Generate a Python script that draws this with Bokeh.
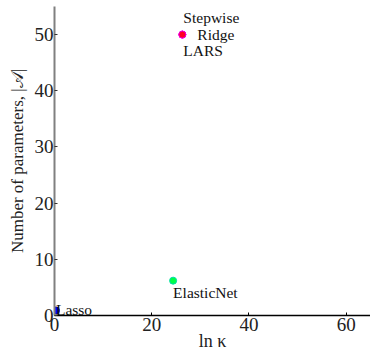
from bokeh.plotting import figure
from bokeh.models import Range1d, ColumnDataSource, FixedTicker, Label
from bokeh.embed import file_html
from bokeh.resources import INLINE

# data
methods = ["Lasso", "ElasticNet", "LARS", "Stepwise", "Ridge"]
ln_kappa = [0.3, 24.4, 26.3, 26.3, 26.3]
n_params = [0.9, 6.2, 50, 50, 50]
fill_colors = ["#0000ff", "#00ff44", "#ff00ff", "#ff00ff", "#ff0022"]
line_colors = ["#0000aa", "#00ddaa", "#ff00ff", "#ff00ff", "#ee00cc"]
x_ticks = [0, 20, 40, 60]
y_ticks = [0, 10, 20, 30, 40, 50]

FONT = "Liberation Serif"

p = figure(width=370, height=353, output_backend="svg", toolbar_location=None,
           x_range=Range1d(0, 65), y_range=Range1d(0, 55),
           min_border_left=54, min_border_right=0, min_border_top=6, min_border_bottom=0)
p.outline_line_color = None
p.grid.visible = False
p.background_fill_color = "white"

src = ColumnDataSource(dict(x=ln_kappa, y=n_params, f=fill_colors, l=line_colors, m=methods))
p.scatter("x", "y", source=src, size=7, fill_color="f", line_color="l", line_width=1)

# labels placed relative to points (screen offsets)
offsets = {"Lasso": (0, 1), "ElasticNet": (0, -12), "Ridge": (15, 0),
           "Stepwise": (1, 17), "LARS": (1, -16)}
for name, xv, yv in zip(methods, ln_kappa, n_params):
    dx, dy = offsets[name]
    p.add_layout(Label(x=xv, y=yv, text=name, x_offset=dx, y_offset=dy,
                       text_font=FONT, text_font_size="15.5px", text_color="#111111",
                       text_baseline="middle", text_align="left"))

p.xaxis.ticker = FixedTicker(ticks=x_ticks)
p.yaxis.ticker = FixedTicker(ticks=y_ticks)
p.xaxis.axis_label = "ln κ"
p.yaxis.axis_label = "Number of parameters, |𝒜|"
for ax in (p.xaxis, p.yaxis):
    ax.major_label_text_font = FONT
    ax.major_label_text_font_size = "19px"
    ax.major_label_text_color = "#222222"
    ax.axis_label_text_font = FONT
    ax.axis_label_text_font_style = "normal"
    ax.axis_label_text_color = "#222222"
    ax.minor_tick_line_color = None
    ax.major_tick_in = 3
    ax.major_tick_out = 0
p.xaxis.axis_label_text_font_size = "18px"
p.yaxis.axis_label_text_font_size = "17px"
p.xaxis.axis_line_color = "black"
p.xaxis.axis_line_width = 1.5
p.xaxis.major_tick_line_color = "black"
p.xaxis.major_label_standoff = 2
p.xaxis.axis_label_standoff = -3
p.yaxis.axis_line_color = "#808080"
p.yaxis.axis_line_width = 2
p.yaxis.major_tick_line_color = "#333333"
p.yaxis.major_label_standoff = 1
p.yaxis.axis_label_standoff = 5

open("out.html", "w").write(file_html(p, INLINE))
